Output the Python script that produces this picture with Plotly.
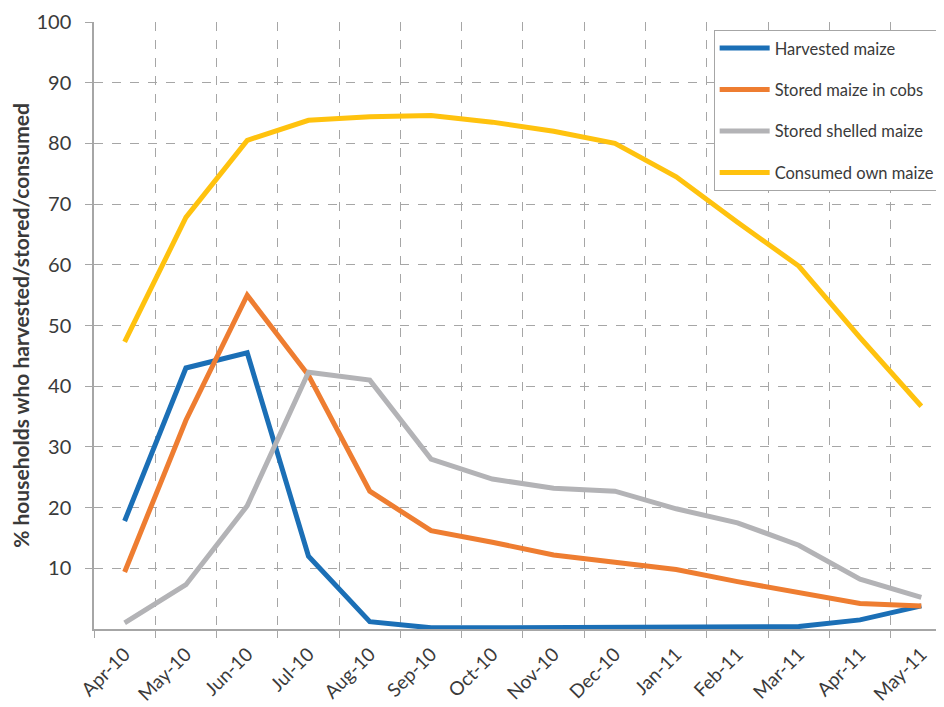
import plotly.graph_objects as go

months = ["Apr-10", "May-10", "Jun-10", "Jul-10", "Aug-10", "Sep-10", "Oct-10",
          "Nov-10", "Dec-10", "Jan-11", "Feb-11", "Mar-11", "Apr-11", "May-11"]
harvested = [17.8, 43.0, 45.5, 12.0, 1.2, 0.2, 0.2, 0.2, 0.2, 0.2, 0.4, 0.4, 1.5, 3.8]
stored_cobs = [9.4, 34.4, 55.0, 41.8, 22.7, 16.2, 14.3, 12.2, 11.0, 9.8, 7.8, 6.0, 4.2, 3.8]
stored_shelled = [1.0, 7.3, 20.3, 42.3, 41.0, 28.0, 24.7, 23.2, 22.7, 19.8, 17.5, 13.8, 8.2, 5.2]
consumed = [47.3, 67.8, 80.5, 83.8, 84.4, 84.6, 83.5, 82.0, 80.0, 74.5, 67.0, 59.8, 48.0, 36.7]
y_ticks = [10, 20, 30, 40, 50, 60, 70, 80, 90, 100]

series = [
    ("Harvested maize", harvested, "#1B6FB6"),
    ("Stored maize in cobs", stored_cobs, "#EE7D31"),
    ("Stored shelled maize", stored_shelled, "#B3B3B6"),
    ("Consumed own maize", consumed, "#FFC20E"),
]

fig = go.Figure()
for i, (name, vals, col) in enumerate(series):
    fig.add_trace(go.Scatter(
        x=months, y=vals, name=name, mode="lines",
        line=dict(color=col, width=5), legendgroup=f"g{i}",
    ))

font_col = "#3a3a3a"
fig.update_layout(
    width=936, height=699,
    margin=dict(l=86, r=0, t=14, b=78),
    paper_bgcolor="white", plot_bgcolor="white",
    font=dict(family="Lato, 'Open Sans', sans-serif", color=font_col),
    showlegend=True,
    legend=dict(
        x=0.729, y=0.987, xanchor="left", yanchor="top",
        bgcolor="white", bordercolor="#a6a6a6", borderwidth=1,
        font=dict(size=16.5, color=font_col),
        tracegroupgap=17, traceorder="grouped", itemwidth=50,
    ),
    xaxis=dict(
        type="category", range=[-0.5, 13.37], automargin=False,
        tickson="boundaries", ticks="outside", ticklen=7, tickcolor="#a6a6a6",
        showgrid=True, gridcolor="#a6a6a6", griddash="dash", gridwidth=1,
        showline=True, linecolor="#a6a6a6", linewidth=1.5,
        tickangle=-45, tickfont=dict(size=19, color=font_col),
        ticklabelstandoff=5,
    ),
    yaxis=dict(
        range=[0, 100], tickvals=y_ticks, automargin=False,
        ticks="outside", ticklen=7, tickcolor="#a6a6a6",
        showgrid=True, gridcolor="#a6a6a6", griddash="dash", gridwidth=1,
        showline=True, linecolor="#a6a6a6", linewidth=1.5,
        tickfont=dict(size=20, color=font_col), ticklabelstandoff=10,
        title=dict(text="<b>% households who harvested/stored/consumed</b>",
                   font=dict(size=21, color=font_col), standoff=6),
        zeroline=False,
    ),
)

fig.write_html("out.html")
